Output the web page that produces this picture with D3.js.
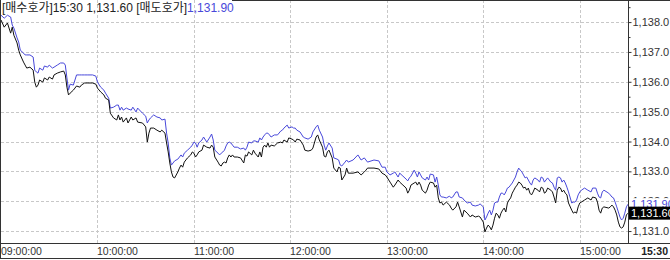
<!DOCTYPE html>
<html>
<head>
<meta charset="utf-8">
<script src="https://cdn.jsdelivr.net/npm/d3@7"></script>
<style>
body { margin: 0; background: #fff; }
svg { display: block; font-family: "Liberation Sans", Arial, sans-serif; }
</style>
</head>
<body>
<div id="chart"></div>
<script>
// quote times (one row per hour)
var times = [
  '09:00','09:02','09:04','09:06','09:07','09:08','09:10','09:11','09:12','09:14','09:15','09:16','09:18','09:20','09:21','09:22','09:23','09:24','09:26','09:27','09:29','09:30','09:32','09:33','09:35','09:37','09:39','09:40','09:41','09:42','09:43','09:45','09:46','09:47','09:49','09:50','09:52','09:54','09:57','09:59',
  '10:00','10:02','10:04','10:05','10:07','10:08','10:10','10:12','10:13','10:14','10:15','10:16','10:18','10:19','10:21','10:22','10:24','10:25','10:28','10:30','10:31','10:32','10:33','10:35','10:37','10:39','10:40','10:42','10:43','10:44','10:45','10:46','10:47','10:48','10:50','10:51','10:52','10:53','10:54','10:56','10:58','10:59',
  '11:00','11:01','11:02','11:03','11:05','11:06','11:08','11:10','11:11','11:12','11:13','11:15','11:16','11:17','11:18','11:19','11:20','11:21','11:22','11:23','11:24','11:25','11:27','11:29','11:31','11:32','11:33','11:34','11:36','11:37','11:38','11:40','11:41','11:42','11:43','11:44','11:45','11:46','11:47','11:48','11:50','11:52','11:54','11:55','11:56','11:58','11:59',
  '12:01','12:02','12:03','12:04','12:06','12:08','12:09','12:11','12:13','12:14','12:16','12:17','12:18','12:20','12:21','12:22','12:23','12:24','12:26','12:27','12:29','12:30','12:31','12:32','12:34','12:35','12:36','12:39','12:42','12:44','12:46','12:47','12:48','12:52','12:55','12:57','12:59',
  '13:00','13:02','13:04','13:05','13:07','13:08','13:10','13:12','13:13','13:14','13:15','13:17','13:18','13:19','13:20','13:21','13:22','13:24','13:25','13:26','13:27','13:29','13:30','13:31','13:32','13:33','13:34','13:35','13:37','13:39','13:40','13:41','13:43','13:44','13:45','13:47','13:48','13:50','13:52','13:53','13:55','13:57','13:58',
  '14:00','14:01','14:02','14:03','14:04','14:05','14:06','14:07','14:08','14:09','14:10','14:11','14:12','14:13','14:14','14:15','14:16','14:17','14:18','14:19','14:20','14:21','14:22','14:23','14:24','14:25','14:26','14:27','14:28','14:29','14:30','14:31','14:32','14:34','14:35','14:36','14:37','14:38','14:39','14:40','14:42','14:43','14:44','14:45','14:46','14:47','14:48','14:49','14:50','14:51','14:52','14:53','14:55','14:56','14:57','14:58','14:59',
  '15:00','15:01','15:03','15:05','15:07','15:08','15:10','15:11','15:12','15:13','15:14','15:15','15:18','15:19','15:20','15:21','15:22','15:23','15:24','15:25','15:26','15:27','15:28','15:29','15:30'
];

// 매수호가 (bid) - black line
var bidQuotes = [
  1138.07,1137.83,1137.97,1137.63,1137.83,1137.56,1137.30,1137.06,1136.90,1136.66,1136.56,1136.46,1136.49,1136.39,1135.99,1135.82,1135.89,1136.06,1135.99,1136.13,1136.06,1136.16,1136.09,1136.23,1136.29,1136.33,1136.36,1136.23,1135.82,1135.56,1135.62,1135.72,1135.79,1135.86,1135.82,1135.89,1135.96,1135.96,1135.96,1135.92,
  1135.79,1135.66,1135.56,1135.45,1135.39,1134.95,1134.79,1134.72,1134.89,1134.72,1134.82,1134.65,1134.79,1134.62,1134.82,1134.72,1134.79,1134.65,1134.62,1134.49,1133.98,1134.28,1134.45,1134.45,1134.38,1134.32,1134.38,1134.28,1133.95,1133.65,1133.28,1132.98,1132.81,1132.78,1132.98,1133.11,1133.21,1133.14,1133.31,1133.45,1133.55,1133.65,
  1133.61,1133.48,1133.55,1133.65,1133.71,1133.88,1133.81,1133.78,1133.88,1133.81,1133.48,1133.31,1133.21,1133.18,1133.28,1133.31,1133.28,1133.45,1133.55,1133.48,1133.55,1133.48,1133.48,1133.45,1133.28,1133.55,1133.51,1133.65,1133.55,1133.71,1133.61,1133.48,1133.65,1133.48,1133.81,1133.88,1133.81,1133.95,1133.81,1133.88,1133.85,1133.95,1133.98,1133.95,1134.05,1133.98,1134.12,
  1134.08,1134.05,1133.98,1134.08,1134.05,1133.88,1133.71,1133.68,1133.71,1133.78,1134.15,1134.22,1134.05,1133.81,1133.51,1133.48,1133.65,1133.71,1133.45,1133.11,1132.98,1133.14,1133.11,1132.71,1132.88,1133.11,1132.94,1132.94,1132.98,1132.88,1132.98,1133.04,1133.11,1133.11,1133.08,1132.94,1132.88,
  1132.81,1132.64,1132.47,1132.54,1132.71,1132.64,1132.54,1132.44,1132.27,1132.37,1132.54,1132.61,1132.64,1132.54,1132.64,1132.54,1132.37,1132.27,1132.37,1132.54,1132.64,1132.61,1132.47,1132.54,1132.11,1131.94,1131.97,1131.87,1131.97,1131.87,1131.77,1131.70,1131.81,1131.97,1131.81,1131.47,1131.70,1131.60,1131.47,1131.54,1131.47,1131.50,1131.47,
  1131.30,1130.97,1131.10,1131.20,1131.14,1131.04,1131.20,1131.43,1131.60,1131.54,1131.43,1131.60,1131.70,1131.77,1131.64,1131.94,1132.04,1132.11,1132.27,1132.37,1132.47,1132.54,1132.64,1132.61,1132.54,1132.44,1132.47,1132.37,1132.44,1132.27,1132.21,1132.31,1132.44,1132.37,1132.31,1132.47,1132.44,1132.27,1132.31,1132.44,1132.37,1132.31,1132.14,1131.94,1132.37,1132.47,1132.44,1132.31,1132.37,1132.27,1132.21,1131.94,1131.70,1131.60,1131.64,1131.60,1131.81,
  1131.94,1131.97,1132.04,1132.11,1132.04,1132.14,1132.11,1131.97,1131.70,1131.60,1131.77,1131.81,1131.77,1131.81,1131.87,1131.81,1131.70,1131.54,1131.30,1131.14,1131.10,1131.14,1131.30,1131.54,1131.60
];

// 매도호가 (ask) - blue line
var askQuotes = [
  1138.23,1138.13,1138.23,1138.17,1137.90,1137.80,1137.47,1137.33,1137.06,1136.96,1136.90,1136.90,1136.90,1136.83,1136.39,1136.33,1136.29,1136.46,1136.39,1136.53,1136.49,1136.56,1136.46,1136.49,1136.56,1136.63,1136.63,1136.56,1136.13,1135.72,1135.92,1135.89,1136.06,1136.23,1136.23,1136.23,1136.23,1136.23,1136.23,1136.19,
  1135.99,1135.82,1135.72,1135.62,1135.45,1135.12,1135.15,1135.22,1135.22,1135.05,1135.15,1135.05,1135.12,1135.09,1135.05,1135.15,1134.99,1135.12,1134.95,1134.85,1134.62,1134.72,1134.79,1134.89,1134.82,1134.79,1134.72,1134.75,1134.28,1133.95,1133.45,1133.21,1133.28,1133.35,1133.41,1133.48,1133.55,1133.48,1133.61,1133.71,1133.81,1133.88,
  1133.98,1133.95,1133.81,1133.95,1134.05,1134.15,1133.98,1134.15,1134.25,1134.05,1133.71,1133.61,1133.55,1133.61,1133.65,1133.71,1133.85,1133.95,1133.98,1133.95,1133.88,1133.81,1133.81,1133.75,1133.78,1133.71,1133.81,1133.98,1133.95,1134.02,1134.02,1133.98,1134.12,1134.05,1134.15,1134.22,1134.28,1134.28,1134.22,1134.15,1134.22,1134.22,1134.35,1134.38,1134.45,1134.55,1134.45,
  1134.49,1134.45,1134.45,1134.38,1134.32,1134.15,1134.12,1134.08,1134.15,1134.32,1134.49,1134.55,1134.38,1134.15,1133.88,1133.71,1133.85,1133.95,1133.78,1133.45,1133.41,1133.38,1133.21,1133.18,1133.31,1133.38,1133.31,1133.38,1133.55,1133.38,1133.45,1133.38,1133.31,1133.38,1133.35,1133.14,1133.14,
  1132.98,1132.88,1132.94,1132.98,1132.81,1132.94,1132.84,1132.74,1132.68,1132.78,1132.84,1133.04,1132.94,1132.81,1132.98,1132.88,1132.78,1132.71,1132.81,1132.71,1132.91,1132.88,1132.64,1132.81,1132.54,1132.21,1132.14,1132.14,1132.11,1132.17,1132.11,1132.14,1132.31,1132.31,1132.14,1132.11,1132.04,1131.94,1131.97,1131.87,1131.84,1131.87,1131.91,
  1131.81,1131.37,1131.47,1131.60,1131.70,1131.54,1131.70,1131.94,1131.97,1131.97,1132.14,1132.27,1132.27,1132.21,1132.31,1132.44,1132.47,1132.54,1132.61,1132.71,1132.81,1132.98,1133.11,1133.04,1132.98,1132.88,1132.78,1132.81,1132.71,1132.61,1132.54,1132.71,1132.78,1132.71,1132.64,1132.81,1132.78,1132.64,1132.71,1132.78,1132.64,1132.61,1132.47,1132.37,1132.78,1132.81,1132.78,1132.64,1132.71,1132.61,1132.47,1132.31,1131.94,1131.97,1131.97,1132.04,1132.21,
  1132.31,1132.37,1132.44,1132.37,1132.31,1132.44,1132.44,1132.27,1132.14,1132.11,1132.31,1132.37,1132.27,1132.21,1132.14,1132.11,1131.97,1131.81,1131.64,1131.47,1131.37,1131.43,1131.60,1131.81,1131.90
];

var priceTicks = [1131, 1132, 1133, 1134, 1135, 1136, 1137, 1138];
var priceMinorTicks = [1131.5, 1132.5, 1133.5, 1134.5, 1135.5, 1136.5, 1137.5, 1138.5];
var hourTicks = ['09:00', '10:00', '11:00', '12:00', '13:00', '14:00', '15:00'];
var lastTime = '15:30';

function main(){
    var W = 670, H = 260;
    var plotL = 1, plotR = 628, plotB = 243;

    var parseT = d3.timeParse('%H:%M');
    var fmtHMS = d3.timeFormat('%H:%M:%S');
    var fmtPrice = d3.format(',.1f');
    var fmtQuote = d3.format(',.2f');

    var bid = times.map(function(t, i){ return { t: parseT(t), v: bidQuotes[i] }; });
    var ask = times.map(function(t, i){ return { t: parseT(t), v: askQuotes[i] }; });

    var x = d3.scaleTime()
              .domain([parseT('09:00'), parseT(lastTime)])
              .range([plotL, plotR]);
    var y = d3.scaleLinear()
              .domain([1130.6, 1138.74])
              .range([plotB, 0]);

    var svg = d3.select('#chart').append('svg')
                .attr('width', W)
                .attr('height', H);

    svg.append('rect').attr('width', W).attr('height', H).attr('fill', '#fff');

    svg.append('clipPath').attr('id', 'plot')
       .append('rect').attr('x', plotL).attr('y', 0)
       .attr('width', plotR - plotL).attr('height', plotB);

    // grid
    var grid = svg.append('g')
                  .attr('stroke', '#c8c8c8')
                  .attr('stroke-dasharray', '3,2')
                  .attr('shape-rendering', 'crispEdges');
    grid.selectAll('.hgrid')
        .data(priceTicks)
      .enter().append('line')
        .attr('x1', plotL).attr('x2', plotR)
        .attr('y1', function(d){ return Math.round(y(d)) + 0.5; })
        .attr('y2', function(d){ return Math.round(y(d)) + 0.5; });
    grid.selectAll('.vgrid')
        .data(hourTicks.slice(1))
      .enter().append('line')
        .attr('x1', function(d){ return Math.round(x(parseT(d))) + 0.5; })
        .attr('x2', function(d){ return Math.round(x(parseT(d))) + 0.5; })
        .attr('y1', 0).attr('y2', plotB);

    // quote lines
    var line = d3.line()
                 .x(function(d){ return x(d.t); })
                 .y(function(d){ return y(d.v); });
    var lines = svg.append('g').attr('clip-path', 'url(#plot)');
    lines.append('path').datum(ask)
         .attr('fill', 'none').attr('stroke', '#4848da').attr('stroke-width', 1)
         .attr('d', line);
    lines.append('path').datum(bid)
         .attr('fill', 'none').attr('stroke', '#111').attr('stroke-width', 1)
         .attr('d', line);

    // frame
    var frame = svg.append('g').attr('stroke', '#333').attr('shape-rendering', 'crispEdges');
    frame.append('line').attr('x1', 0.5).attr('x2', 0.5).attr('y1', 0).attr('y2', 259);
    frame.append('line').attr('x1', 232).attr('x2', W).attr('y1', 0.5).attr('y2', 0.5);
    frame.append('line').attr('x1', plotR + 0.5).attr('x2', plotR + 0.5).attr('y1', 0).attr('y2', plotB);
    frame.append('line').attr('x1', 0).attr('x2', W).attr('y1', plotB + 0.5).attr('y2', plotB + 0.5);
    frame.append('line').attr('x1', 0).attr('x2', W).attr('y1', 258.5).attr('y2', 258.5);

    // right price axis
    var yAxis = d3.axisRight(y)
                  .tickValues(priceTicks)
                  .tickSize(3)
                  .tickPadding(1)
                  .tickFormat(fmtPrice);
    var ya = svg.append('g')
                .attr('transform', 'translate(' + (plotR + 0.5) + ',0)')
                .call(yAxis);
    ya.select('.domain').remove();
    ya.selectAll('line').attr('stroke', '#333');
    ya.selectAll('text')
      .attr('font-family', '"Liberation Sans", Arial, sans-serif')
      .attr('font-size', 11).attr('fill', '#333');
    svg.append('g')
       .attr('transform', 'translate(' + (plotR + 0.5) + ',0)')
       .call(d3.axisRight(y).tickValues(priceMinorTicks).tickSize(2).tickFormat(''))
       .call(function(g){ g.select('.domain').remove(); g.selectAll('line').attr('stroke', '#333'); });

    // bottom time labels
    svg.selectAll('.tlabel')
       .data(hourTicks)
     .enter().append('text')
       .attr('x', function(d){ return Math.round(x(parseT(d))); })
       .attr('y', 255)
       .attr('font-size', 10.5).attr('fill', '#333')
       .text(function(d){ return fmtHMS(parseT(d)); });
    svg.append('text')
       .attr('x', 668).attr('y', 255)
       .attr('text-anchor', 'end')
       .attr('font-size', 10.5).attr('font-weight', 'bold').attr('fill', '#222')
       .text(lastTime);

    // last quote labels on the price axis
    var lastAsk = askQuotes[askQuotes.length - 1],
        lastBid = bidQuotes[bidQuotes.length - 1];
    svg.append('rect')
       .attr('x', plotR + 1).attr('y', y(lastAsk) - 6)
       .attr('width', W - plotR - 1).attr('height', 12).attr('fill', '#fff');
    svg.append('text')
       .attr('x', plotR + 3).attr('y', y(lastAsk)).attr('dy', '0.35em')
       .attr('font-size', 11).attr('fill', '#4848da')
       .text(fmtQuote(lastAsk));
    svg.append('rect')
       .attr('x', plotR + 1).attr('y', y(lastBid) - 6.5)
       .attr('width', W - plotR - 1).attr('height', 13).attr('fill', '#000');
    svg.append('text')
       .attr('x', plotR + 3).attr('y', y(lastBid)).attr('dy', '0.35em')
       .attr('font-size', 11).attr('fill', '#fff')
       .text(fmtQuote(lastBid));

    // header
    var head = svg.append('text')
                  .attr('x', 2).attr('y', 12)
                  .attr('font-family', '"Liberation Sans", "Noto Sans CJK KR", sans-serif')
                  .attr('font-size', 12).attr('fill', '#222');
    head.append('tspan').text('[매수호가]' + lastTime + ' ' + fmtQuote(lastBid) + ' [매도호가]');
    head.append('tspan').attr('fill', '#4848da').text(fmtQuote(lastAsk));
}

main();
</script>
</body>
</html>
